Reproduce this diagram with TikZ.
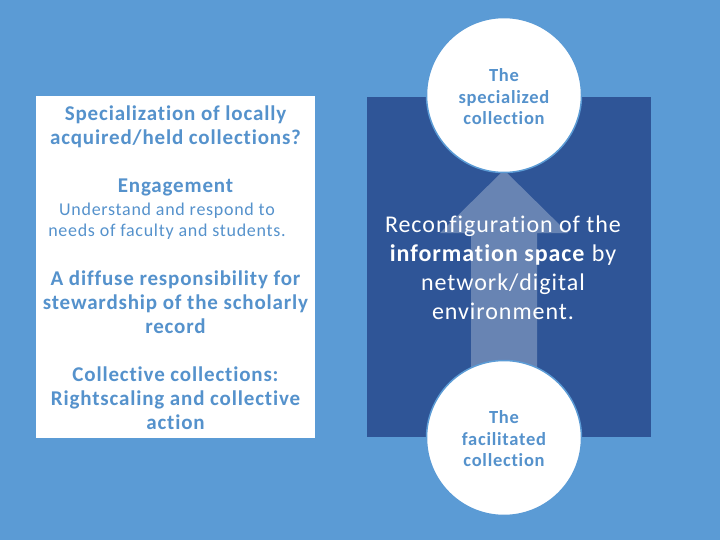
\documentclass[tikz,border=0pt]{standalone}
\usepackage{fontspec}
\setmainfont{Carlito}[LetterSpace=4, Ligatures=NoCommon]
\definecolor{bgblue}{HTML}{5B9BD5}
\definecolor{darkblue}{HTML}{2F5597}
\definecolor{txtblue}{HTML}{5592CC}
\tikzset{
  leftbold/.style={text=txtblue, align=center, font=\bfseries\fontsize{21}{24}\selectfont, inner sep=0pt},
  leftbody/.style={text=txtblue, align=center, font=\fontsize{18}{21}\selectfont, inner sep=0pt},
  circ/.style={circle, fill=white, draw=bgblue, line width=1.5pt, minimum size=155pt, inner sep=0pt},
  circtext/.style={text=txtblue, align=center, font=\bfseries\fontsize{18.5}{21.5}\selectfont, inner sep=0pt},
  midtext/.style={text=white, align=center, font=\fontsize{24}{29}\selectfont, inner sep=0pt}
}
\begin{document}
\begin{tikzpicture}[x=1pt,y=-1pt]
\fill[bgblue] (0,0) rectangle (720,540);
\useasboundingbox (0,0) rectangle (720,540);
% left white panel
\node[fill=white, minimum width=279pt, minimum height=342pt, inner sep=0pt] (leftbox) at (175.5,267) {};
% dark panel
\node[fill=darkblue, minimum width=284pt, minimum height=340pt, inner sep=0pt] (darkbox) at (509,267) {};
% arrow
\coordinate (tip) at (504,170);
\fill[white, opacity=0.28] (471,400) -- (471,233) -- (440,233) -- (tip) -- (568,233) -- (537,233) -- (537,400) -- cycle;
% circles
\node[circ] (top) at (504,95) {};
\node[circ] (bottom) at (504,438) {};
\node[circtext] (toptext) at (504,97) {The\\specialized\\collection};
\node[circtext] (bottomtext) at (504,439) {The\\facilitated\\collection};
% middle text
\node[midtext] (reconf) at (503,268) {Reconfiguration of the\\\textbf{information space} by\\network/digital\\environment.};
% left texts
\node[leftbold] (spec) at (175.5,127) {Specialization of locally\\acquired/held collections?};
\node[leftbold] (eng) at (175.5,187) {Engagement};
\node[leftbody] (engbody) at (167,221) {Understand and respond to\\needs of faculty and students.};
\node[leftbold] (diffuse) at (175.5,302) {A diffuse responsibility for\\stewardship of the scholarly\\record};
\node[leftbold] (collective) at (175.5,398) {Collective collections:\\Rightscaling and collective\\action};
\end{tikzpicture}
\end{document}
